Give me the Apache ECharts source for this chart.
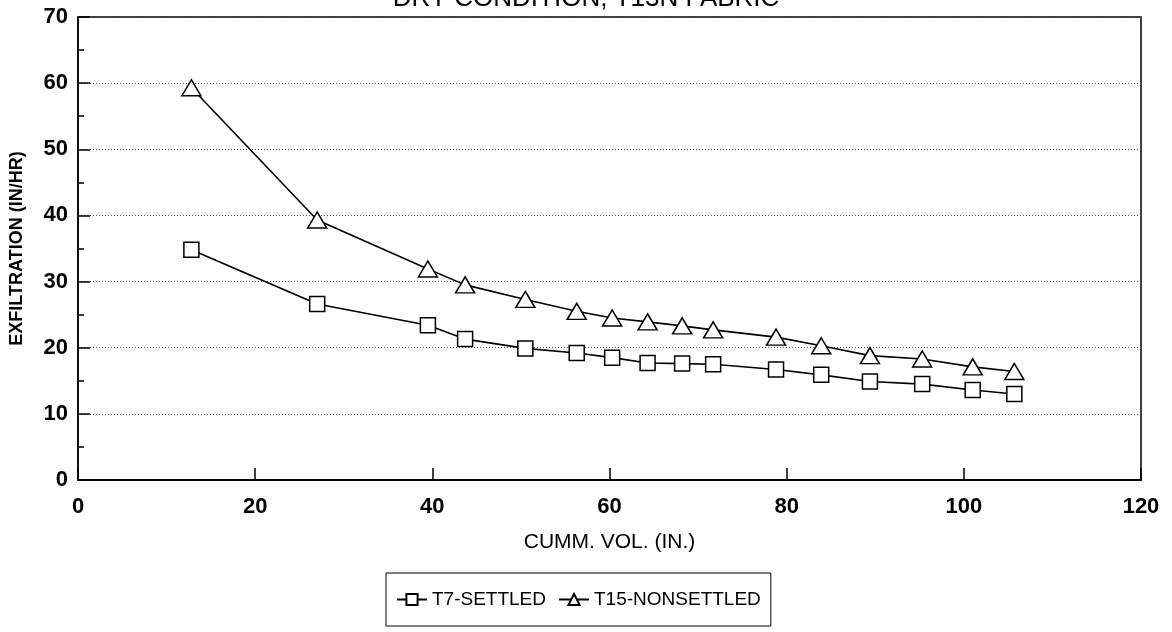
<!DOCTYPE html>
<html>
<head>
<meta charset="utf-8">
<script src="https://cdn.jsdelivr.net/npm/echarts@6/dist/echarts.min.js"></script>
<style>
  html, body { margin: 0; padding: 0; background: #fff; }
  #chart { width: 1172px; height: 632px; }
</style>
</head>
<body>
<div id="chart"></div>
<script>
// cumulative volume (in.)
var cummVol = [12.8, 27.0, 39.5, 43.7, 50.5, 56.3, 60.3, 64.3, 68.2, 71.7, 78.8, 83.9, 89.4, 95.3, 101.0, 105.7];
// exfiltration (in/hr)
var t7Settled = [34.8, 26.6, 23.4, 21.3, 19.9, 19.2, 18.5, 17.7, 17.6, 17.5, 16.7, 15.9, 14.9, 14.5, 13.6, 13.0];
var t15Nonsettled = [59.3, 39.3, 31.9, 29.5, 27.3, 25.5, 24.5, 23.9, 23.3, 22.7, 21.6, 20.3, 18.8, 18.3, 17.1, 16.4];
var seriesNames = ['T7-SETTLED', 'T15-NONSETTLED'];

function pairs(xs, ys) {
  var out = [];
  for (var i = 0; i < xs.length; i++) out.push([xs[i], ys[i]]);
  return out;
}

var chart = echarts.init(document.getElementById('chart'));
var font = 'Liberation Sans, Arial, sans-serif';

var option = {
  animation: false,
  backgroundColor: '#fff',
  title: {
    text: 'DRY CONDITION, T13N FABRIC',
    left: 'center',
    top: -19,
    textStyle: { fontFamily: font, fontSize: 26, fontWeight: 'normal', color: '#000' }
  },
  legend: {
    data: seriesNames,
    left: 386,
    top: 573,
    padding: [17, 10, 17, 10],
    itemGap: 12,
    itemWidth: 30,
    itemHeight: 14,
    borderColor: '#000',
    borderWidth: 1,
    textStyle: { fontFamily: font, fontSize: 19, color: '#000' }
  },
  grid: {
    left: 78, right: 31, top: 17, bottom: 152,
    outerBoundsMode: 'none',
    containLabel: false,
    show: true, borderColor: '#000', borderWidth: 1.5
  },
  xAxis: {
    type: 'value',
    min: 0, max: 120, interval: 20,
    name: 'CUMM. VOL. (IN.)',
    nameLocation: 'middle',
    nameGap: 52,
    nameTextStyle: { fontFamily: font, fontSize: 21, color: '#000' },
    axisLine: { lineStyle: { color: '#000', width: 2 } },
    axisTick: { inside: true, length: 12, lineStyle: { color: '#000', width: 1.5 } },
    axisLabel: { fontFamily: font, fontSize: 22, fontWeight: 'bold', color: '#000', margin: 16 },
    splitLine: { show: false }
  },
  yAxis: {
    type: 'value',
    min: 0, max: 70, interval: 10,
    name: 'EXFILTRATION (IN/HR)',
    nameLocation: 'middle',
    nameGap: 52,
    nameTextStyle: { fontFamily: font, fontSize: 18, fontWeight: 'bold', color: '#000' },
    axisLine: { show: true, lineStyle: { color: '#000', width: 1.5 } },
    axisTick: { inside: true, length: 12, lineStyle: { color: '#000', width: 1.5 } },
    minorTick: { show: true, splitNumber: 2, length: 6, lineStyle: { color: '#000', width: 1.5 } },
    axisLabel: { fontFamily: font, fontSize: 22, fontWeight: 'bold', color: '#000', margin: 10 },
    splitLine: { show: true, lineStyle: { color: '#555', type: [1, 2], width: 1 } }
  },
  series: [
    {
      name: seriesNames[0],
      type: 'line',
      data: pairs(cummVol, t7Settled),
      symbol: 'rect',
      symbolSize: 15,
      showAllSymbol: true,
      lineStyle: { color: '#000', width: 1.6 },
      itemStyle: { color: '#fff', borderColor: '#000', borderWidth: 1.5 }
    },
    {
      name: seriesNames[1],
      type: 'line',
      data: pairs(cummVol, t15Nonsettled),
      symbol: 'triangle',
      symbolSize: [19, 16],
      showAllSymbol: true,
      lineStyle: { color: '#000', width: 1.6 },
      itemStyle: { color: '#fff', borderColor: '#000', borderWidth: 1.5 }
    }
  ]
};
chart.setOption(option);
</script>
</body>
</html>
